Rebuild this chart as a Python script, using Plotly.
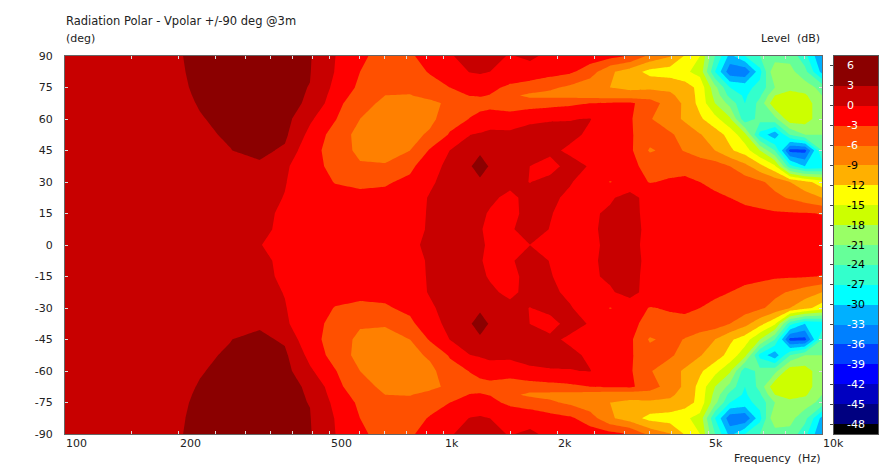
import math
import plotly.graph_objects as go

freq_hz = [100, 148.5, 195, 227, 273, 327, 381, 444, 517, 602, 701, 816, 921, 1040, 1175, 1249, 1327, 1499,
           1693, 1912, 2159, 2438, 2754, 3110, 3512, 3966, 4345, 4761, 5217, 5713, 6259, 6857, 7511, 8233, 9018, 10000]

deg_90 = [2,2.2,2.8,3.4,3.8,3.9,3.6,3.2,0.05,-2.6,-3.8,-3.4,-1.8,-0.2,0.8,0.9,0.8,-0.2,0.6,-0.8,-1.2,-1.5,-2,-3.2,-6.8,-8.8,-12.3,-15,-24,-31,-27,-24,-23,-22,-26,-33]
deg_82 = [2,2.2,2.7,3.4,3.8,3.9,3.5,3.1,-0.1,-3,-4.5,-4,-2.8,-1.2,0.1,0.3,0,-1,-1.3,-1.8,-2.5,-4.5,-8.5,-10.5,-13,-13.5,-14.5,-16,-27,-35,-35.5,-28,-18,-20,-23,-31]
deg_75 = [2,2.2,2.6,3.3,3.8,3.8,3.4,2.95,-0.7,-3.6,-5.5,-5.4,-4,-3,-1.8,-1.7,-2.3,-3.6,-4.3,-5.5,-6.6,-8,-9,-9.5,-9.5,-9.6,-10.5,-13,-20,-27,-28,-26,-21,-19,-19.5,-22]
deg_71 = [2,2.2,2.55,3.2,3.75,3.75,3.35,2.9,-1.3,-4.3,-6,-6.1,-5.3,-4,-2.9,-2.8,-3.1,-5.4,-6.6,-6.8,-7,-7.5,-8,-8,-7.5,-8.5,-10,-13,-19,-25,-27.5,-24.5,-18,-16.5,-17.5,-21]
deg_67 = [2,2.2,2.5,3.1,3.7,3.7,3.3,2.85,-2,-5,-6.6,-6.8,-6.6,-5.5,-4,-3.9,-4,-4.7,-4.5,-4,-3.6,-3,-2.6,-2.5,-4.5,-7.5,-9.5,-13,-18,-22,-27,-23,-15.5,-15.2,-16.5,-20]
deg_60 = [2,2.2,2.4,2.9,3.4,3.6,4,0.5,-2.8,-6,-7.3,-7.5,-6.8,-4.2,-2.9,-2.2,-1.5,-1.5,-0.4,-0.2,-0.1,0.1,-1.5,-2.6,-5.8,-7.6,-9.5,-11.5,-14,-17.5,-26,-23,-22,-16,-16.5,-20]
deg_52 = [2,2.2,2.3,2.7,3.2,3.7,3.55,-0.9,-4.2,-7,-7.5,-7,-5.5,-2.7,-0.05,0.3,0.7,0.6,0.8,1,0.7,-0.5,-1.5,-2.7,-4.5,-5.6,-7,-8.8,-10.5,-13,-17,-28,-32,-24,-21,-21]
deg_45 = [2,2.2,2.3,2.5,2.95,3.6,2.6,-2.4,-3.7,-7,-7.2,-6,-2.7,0.05,1.8,2.6,1.5,1.2,1.2,0.6,-0.5,-1.2,-1.8,-2.4,-6.4,-5,-6.2,-7.5,-9,-11.5,-13.5,-18,-24,-37,-37,-24]
deg_37 = [2,2.2,2.3,2.4,2.6,2.6,0.4,-1.7,-4,-5.5,-5.7,-3.6,-1.3,0.9,2.8,4,2.8,1.5,-0.02,-1,1,-0.2,-1.5,-2.6,-3.5,-3.6,-3.8,-4.2,-4.5,-6,-8,-11,-14.5,-26,-30,-29]
deg_30 = [2,2.2,2.3,2.3,2.3,1.4,0.15,-1.8,-3.1,-3.4,-3.3,-2.4,-0.4,1,1.5,2.6,1.3,0.6,-0.05,0.8,0.2,-1.2,-3.1,-2.1,-3.1,-2.8,-2.5,-3,-3.4,-3.9,-4.6,-5.5,-7,-9,-11,-13.5]
deg_22 = [2,2.2,2.2,2.1,1.9,0.9,-0.1,-1.5,-2.2,-2.5,-2.3,-1.2,0.2,1,1,0.9,0.4,-0.5,0.7,0.5,-0.5,-1,-0.4,1.2,-1.4,-1.6,-2,-2.3,-2.7,-3,-3.5,-4,-5.3,-6.3,-7.5,-9]
deg_15 = [2,2.2,2.1,1.9,1.5,0.6,-0.4,-1.2,-1.6,-1.9,-1.6,-0.8,0.2,0.9,0.6,0.4,-0.2,-0.6,0.7,0.1,-0.6,-0.5,0.5,0.8,-0.8,-1.1,-1.5,-1.8,-2,-2.2,-2.4,-2.5,-2.6,-2.7,-2.8,-3.1]
deg_7 = [2,2.2,2,1.7,1.2,0.4,-0.4,-0.9,-1.2,-1.4,-1.2,-0.6,0.2,0.7,0.35,0.1,-0.3,-0.2,0.7,-0.05,-0.6,-0.4,0.6,0.8,-0.6,-0.9,-1.3,-1.5,-1.6,-1.7,-1.7,-1.8,-1.9,-2,-2.1,-2.2]
deg_0 = [0.05,0.05,0.05,0.05,0.05,0.005,-0.05,-0.05,-0.05,-0.05,-0.05,-0.05,0.05,0.05,0.05,0.05,-0.05,-0.05,-0.01,-0.05,-0.05,-0.05,0.05,0.05,-0.05,-0.05,-0.05,-0.05,-0.05,-0.05,-0.05,-0.05,-0.05,-0.05,-0.05,-0.05]

upper_rows = [deg_0, deg_7, deg_15, deg_22, deg_30, deg_37, deg_45, deg_52, deg_60, deg_67, deg_71, deg_75, deg_82, deg_90]
upper_angles = [0, 7.5, 15, 22.5, 30, 37.5, 45, 52.5, 60, 67.5, 71.25, 75, 82.5, 90]

angles = [-a for a in reversed(upper_angles[1:])] + upper_angles
levels_z = list(reversed(upper_rows[1:])) + upper_rows

band_colors = ["#000000", "#000080", "#0000c0", "#0000ff", "#0040ff", "#0080ff", "#00b0ff", "#00ffff",
               "#33ffcc", "#66ff99", "#99ff66", "#ccff00", "#ffff00", "#ffb000", "#ff8000", "#ff5000",
               "#ff0000", "#c80000", "#8b0000"]
band_edges = [-49.5, -48, -45, -42, -39, -36, -33, -30, -27, -24, -21, -18, -15, -12, -9, -6, -3, 0, 3, 7.5]
bar_ticks = [6, 3, 0, -3, -6, -9, -12, -15, -18, -21, -24, -27, -30, -33, -36, -39, -42, -45, -48]

minor_ticks = [100, 150, 200, 250, 300, 350, 400, 450, 500, 600, 700, 800, 900, 1000, 1500, 2000, 2500, 3000,
               3500, 4000, 4500, 5000, 6000, 7000, 8000, 9000, 10000]
major_ticks = [100, 200, 500, 1000, 2000, 5000, 10000]
major_labels = ["100", "200", "500", "1k", "2k", "5k", "10k"]
y_ticks = [90, 75, 60, 45, 30, 15, 0, -15, -30, -45, -60, -75, -90]

W, H = 892, 469
FONT = "DejaVu Sans"
TXT = "#222222"
n = len(band_colors)
scale = [[i / (n - 1), c] for i, c in enumerate(band_colors)]

fig = go.Figure()
fig.add_trace(go.Contour(
    x=freq_hz, y=angles, z=levels_z, colorscale=scale, showscale=False, hoverinfo="skip",
    contours=dict(start=-48, end=3, size=3, coloring="fill", showlines=False),
    line=dict(width=0, smoothing=0), connectgaps=True,
))
fig.add_trace(go.Heatmap(
    x=[0, 1], y=band_edges, z=[[i] for i in range(n)], zmin=0, zmax=n - 1,
    colorscale=scale, showscale=False, hoverinfo="skip", xaxis="x2", yaxis="y2",
))

ann = [
    dict(text="Radiation Polar - Vpolar +/-90 deg @3m", xref="paper", yref="paper", x=64 / W, y=1 - 21 / H,
         xanchor="left", yanchor="middle", showarrow=False, font=dict(size=11.5, color=TXT, family=FONT)),
    dict(text="(deg)", xref="paper", yref="paper", x=64 / W, y=1 - 39 / H,
         xanchor="left", yanchor="middle", showarrow=False, font=dict(size=11, color=TXT, family=FONT)),
    dict(text="Level \u00a0(dB)", xref="paper", yref="paper", x=822 / W, y=1 - 38 / H,
         xanchor="right", yanchor="middle", showarrow=False, font=dict(size=11, color=TXT, family=FONT)),
    dict(text="Frequency \u00a0(Hz)", xref="paper", yref="paper", x=822 / W, y=1 - 458 / H,
         xanchor="right", yanchor="middle", showarrow=False, font=dict(size=11, color=TXT, family=FONT)),
]
for v, lab in zip(major_ticks, major_labels):
    ann.append(dict(text=lab, xref="x", yref="paper", x=math.log10(v), y=1 - 443 / H,
                    xanchor="left", yanchor="middle", showarrow=False, xshift=-1,
                    font=dict(size=11, color=TXT, family=FONT)))
for v in bar_ticks:
    ann.append(dict(text=str(v), xref="x2", yref="y2", x=0.26, y=v, xanchor="left", yanchor="middle",
                    showarrow=False, font=dict(size=11, family=FONT,
                    color="#ffffff" if (v >= -6 or v <= -33) else "#000000")))

fig.update_layout(
    template="none",
    width=W, height=H, autosize=False, margin=dict(l=0, r=0, t=0, b=0, pad=0),
    paper_bgcolor="white", plot_bgcolor="white", showlegend=False, annotations=ann,
    font=dict(family=FONT, size=11, color=TXT),
    xaxis=dict(type="log", domain=[65 / W, 822 / W], range=[2, 4], tickmode="array", tickvals=minor_ticks,
               ticktext=[""] * len(minor_ticks), ticks="inside", ticklen=3, tickcolor="#dddddd", automargin=False,
               showgrid=False, zeroline=False, showline=True, linecolor="#666666", linewidth=1, mirror="allticks"),
    yaxis=dict(domain=[1 - 434 / H, 1 - 56 / H], range=[-90, 90], tickmode="array", tickvals=y_ticks,
               ticktext=[str(v) for v in y_ticks], ticks="inside", ticklen=3, tickcolor="#dddddd", automargin=False,
               ticklabelstandoff=9, showgrid=False, zeroline=False, showline=True, linecolor="#666666", linewidth=1,
               mirror="allticks", tickfont=dict(size=11, color=TXT, family=FONT)),
    xaxis2=dict(domain=[834 / W, 878 / W], range=[0, 1], anchor="y2", showticklabels=False, ticks="", automargin=False,
                showgrid=False, zeroline=False, showline=True, linecolor="#555555", linewidth=1, mirror=True),
    yaxis2=dict(domain=[1 - 434 / H, 1 - 56 / H], range=[-49.5, 7.5], anchor="x2", tickmode="array", automargin=False,
                tickvals=bar_ticks, ticktext=[""] * len(bar_ticks), ticks="outside", ticklen=3,
                tickcolor="#444444", showgrid=False, zeroline=False, showline=True, linecolor="#555555",
                linewidth=1, mirror=True),
)
fig.write_html("out.html", config={"displayModeBar": False}, post_script="document.body.style.margin='0';")
